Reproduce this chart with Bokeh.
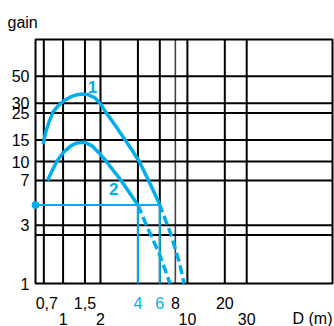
import math
from bokeh.plotting import figure
from bokeh.models import Range1d
from bokeh.embed import file_html
from bokeh.resources import INLINE
from bokeh.core.properties import value

# ---- data ----
# curve 1 (solid part, then dashed extrapolation)
c1_x = [0.69, 0.73, 0.77, 0.83, 0.92, 1.02, 1.16, 1.3, 1.44, 1.6, 1.8, 2.0, 2.2, 2.7, 3.16, 3.6, 4.1, 4.87, 5.95]
c1_y = [13.9, 17.8, 21.0, 25.5, 28.8, 31.6, 34.0, 35.3, 35.8, 35.2, 33.3, 29.7, 25.5, 19.0, 15.0, 12.3, 10.0, 7.0, 4.5]
c1d_x = [5.95, 6.6, 7.3, 7.9, 8.6, 9.4]
c1d_y = [4.5, 3.4, 2.6, 2.0, 1.5, 1.0]
# curve 2
c2_x = [0.75, 0.82, 0.90, 1.0, 1.16, 1.3, 1.48, 1.7, 2.0, 2.2, 2.5, 2.9, 3.4, 4.0]
c2_y = [7.0, 8.5, 10.2, 11.8, 13.5, 14.2, 14.4, 13.5, 11.4, 10.2, 8.6, 7.1, 5.6, 4.4]
c2d_x = [4.0, 4.75, 5.95, 7.25]
c2d_y = [4.4, 2.9, 1.75, 1.0]

# reading guide
guide_gain = 4.4
guide_d = [4, 6]

# grid and ticks
grid_x = [0.7, 1, 1.5, 2, 4, 6, 8, 10, 20, 30]
grid_y = [2.5, 3, 7, 10, 15, 25, 30, 50]
y_ticks = [1, 3, 7, 10, 15, 25, 30, 50]
y_tick_labels = ["1", "3", "7", "10", "15", "25", "30", "50"]
x_row1 = [0.7, 1.5, 4, 6, 8, 20]
x_row1_labels = ["0,7", "1,5", "4", "6", "8", "20"]
x_row2 = [1, 2, 10, 30]
x_row2_labels = ["1", "2", "10", "30"]
curve_names = ["1", "2"]
curve_name_x = [1.72, 2.56]
curve_name_y = [41, 5.9]

# chart area (data) range
X0, X1 = 0.6, 147
Y0, Y1 = 1, 100

CYAN = "#00AEEF"
FONT = value("Liberation Sans")
FS = "16px"

# canvas layout (pixels)
W, H = 334, 326
FL, FR, FT, FB = 35, 2, 39, 43   # chart frame inset on each side

ppd_x = (W - FL - FR) / math.log10(X1 / X0)
ppd_y = (H - FT - FB) / math.log10(Y1 / Y0)
xr = Range1d(X0 * 10 ** (-FL / ppd_x), X1 * 10 ** (FR / ppd_x))
yr = Range1d(Y0 * 10 ** (-FB / ppd_y), Y1 * 10 ** (FT / ppd_y))

p = figure(width=W, height=H, x_axis_type="log", y_axis_type="log",
           x_range=xr, y_range=yr,
           x_axis_location=None, y_axis_location=None,
           toolbar_location=None, output_backend="svg",
           min_border=0)
p.grid.visible = False
p.outline_line_color = None
p.background_fill_color = "white"
p.border_fill_color = "white"

# grid lines inside the chart area
vx = [gx for gx in grid_x if gx != 8]
p.segment(x0=vx, y0=[Y0] * len(vx), x1=vx, y1=[Y1] * len(vx), line_color="black", line_width=2)
p.segment(x0=[8], y0=[Y0], x1=[8], y1=[Y1], line_color="#444444", line_width=1.6)
p.segment(x0=[X0] * len(grid_y), y0=grid_y, x1=[X1] * len(grid_y), y1=grid_y,
          line_color="black", line_width=2)
# frame
p.quad(left=[X0], right=[X1], bottom=[Y0], top=[Y1], fill_color=None,
       line_color="black", line_width=2)

# guide lines
p.segment(x0=[X0], y0=[guide_gain], x1=[max(guide_d)], y1=[guide_gain], line_color=CYAN, line_width=2)
p.segment(x0=guide_d, y0=[Y0] * len(guide_d), x1=guide_d, y1=[guide_gain] * len(guide_d),
          line_color=CYAN, line_width=2)
p.scatter([X0], [guide_gain], size=7, color=CYAN)

# curves
p.line(c1_x, c1_y, line_color=CYAN, line_width=3.5, line_join="round")
p.line(c1d_x, c1d_y, line_color=CYAN, line_width=3.5, line_dash="9 4")
p.line(c2_x, c2_y, line_color=CYAN, line_width=3.5, line_join="round")
p.line(c2d_x, c2d_y, line_color=CYAN, line_width=3.5, line_dash="9 4")

p.text(x=curve_name_x, y=curve_name_y, text=curve_names, text_color=CYAN, text_font=FONT,
       text_font_size="17px", text_font_style="bold", text_align="center",
       text_baseline="middle")

# y tick labels
p.text(x=[X0] * len(y_ticks), y=y_ticks, text=y_tick_labels, x_offset=-6,
       text_align="right", text_baseline="middle", text_font=FONT,
       text_font_size=FS, text_color="black")

# x tick labels, two staggered rows
row1_colors = [CYAN if v in guide_d else "black" for v in x_row1]
row1_dx = [3 if t == "0,7" else 0 for t in x_row1_labels]
p.text(x=x_row1, y=[Y0] * len(x_row1), text=x_row1_labels, x_offset=row1_dx, y_offset=19,
       text_align="center", text_baseline="alphabetic", text_font=FONT,
       text_font_size=FS, text_color=row1_colors)
p.text(x=x_row2, y=[Y0] * len(x_row2), text=x_row2_labels, y_offset=35,
       text_align="center", text_baseline="alphabetic", text_font=FONT,
       text_font_size=FS, text_color="black")

p.text(x=[X1], y=[Y0], text=["D (m)"], y_offset=35, text_align="right",
       text_baseline="alphabetic", text_font=FONT, text_font_size=FS, text_color="black")
p.text(x=[X0], y=[Y1], text=["gain"], x_offset=-28, y_offset=-17, text_align="left",
       text_baseline="alphabetic", text_font=FONT, text_font_size=FS, text_color="black")

open("out.html", "w").write(file_html(p, INLINE))
